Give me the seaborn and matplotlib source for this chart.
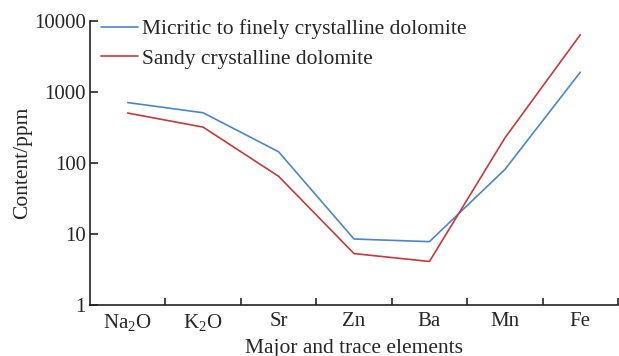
import matplotlib
matplotlib.use("Agg")
import matplotlib.pyplot as plt
import seaborn as sns
import pandas as pd
import numpy as np

elements = ["Na$\\mathregular{_2}$O", "K$\\mathregular{_2}$O", "Sr", "Zn", "Ba", "Mn", "Fe"]
micritic = [710, 510, 144, 8.5, 7.8, 81, 1900]
sandy = [505, 320, 65, 5.3, 4.1, 225, 6400]
series_names = ["Micritic to finely crystalline dolomite", "Sandy crystalline dolomite"]

sns.set_style("ticks")
plt.rcParams["font.family"] = ["Liberation Serif", "DejaVu Serif"]
plt.rcParams["mathtext.fontset"] = "custom"
plt.rcParams["mathtext.rm"] = "Liberation Serif"

df = pd.DataFrame({
    "element": elements * 2,
    "value": micritic + sandy,
    "series": [series_names[0]] * len(elements) + [series_names[1]] * len(elements),
})

fig = plt.figure(figsize=(6.19, 3.56), dpi=100)
ax = fig.add_axes([90 / 619, 51 / 356, 528 / 619, 284 / 356])

sns.lineplot(data=df, x="element", y="value", hue="series", sort=False,
             palette=["#4A86CF", "#C9393B"], linewidth=1.2, ax=ax)

ax.set_yscale("log")
ax.set_ylim(1, 10000)
ax.set_xlim(-0.5, len(elements) - 0.5)
ax.set_yticks([1, 10, 100, 1000, 10000])
ax.set_yticklabels(["1", "10", "100", "1000", "10000"])
ax.yaxis.set_minor_locator(matplotlib.ticker.NullLocator())
ax.set_xticks(range(len(elements)))
ax.set_xticklabels(elements)
ax.set_xticks(np.arange(0.5, len(elements)), minor=True)
ax.tick_params(axis="x", which="major", length=0, labelsize=15, pad=5)
ax.tick_params(axis="x", which="minor", direction="in", length=5, width=1.2)
ax.tick_params(axis="y", which="major", direction="in", length=6, width=1.2, labelsize=15, pad=3)

for s in ["top", "right"]:
    ax.spines[s].set_visible(False)
for s in ["left", "bottom"]:
    ax.spines[s].set_linewidth(1.2)
    ax.spines[s].set_color("#222222")

ax.set_xlabel("Major and trace elements", fontsize=15.5, labelpad=4)
ax.set_ylabel("Content/ppm", fontsize=15.5, labelpad=1)

leg = ax.legend(loc="upper left", frameon=False, fontsize=15.5, handlelength=1.7,
                handletextpad=0.2, labelspacing=0.44, borderaxespad=0.0,
                bbox_to_anchor=(0.005, 1.036))

fig.savefig("out.png", dpi=100)
